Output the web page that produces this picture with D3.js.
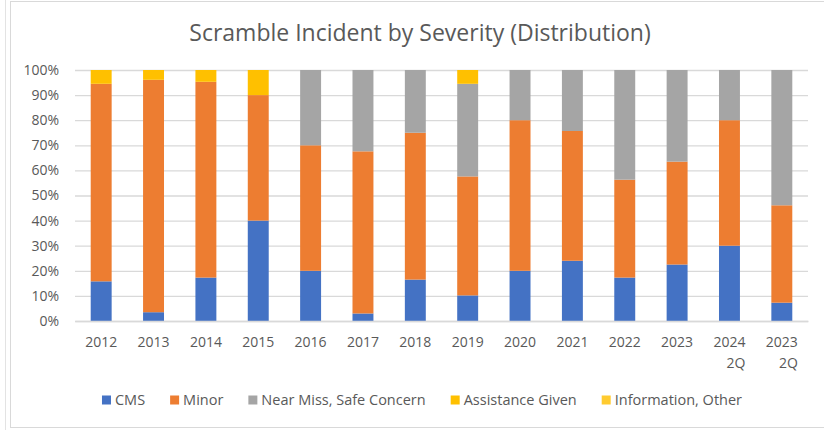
<!DOCTYPE html>
<html lang="en">
    <head>
        <meta charset="utf-8">
        <title>Scramble Incident by Severity</title>
        <script type="text/javascript" src="https://d3js.org/d3.v7.min.js"></script>
        <style type="text/css">
            body { margin: 0; background: #fff; }
            text { font-family: "Open Sans", Arial, sans-serif; fill: #595959; }
            .title { font-size: 23px; }
            .tick text { font-size: 14px; }
            .xlab { font-size: 14.5px; }
            .legend text { font-size: 14.5px; }
        </style>
    </head>
    <body>
        <script type="text/javascript">

            // chart size
            const svgW = 824;
            const svgH = 430;

            // data (shares per year)
            const categories = ["2012", "2013", "2014", "2015", "2016", "2017", "2018",
                                "2019", "2020", "2021", "2022", "2023", "2024 2Q", "2023 2Q"];
            const cms        = [15.8, 3.5, 17.3, 40, 20, 3, 16.5, 10.2, 20, 24, 17.3, 22.5, 30, 7.3];
            const minor      = [78.7, 92.6, 78, 50, 50, 64.6, 58.5, 47.4, 60, 51.7, 39, 41, 50, 38.8];
            const nearMiss   = [0, 0, 0, 0, 30, 32.4, 25, 36.9, 20, 24.3, 43.7, 36.5, 20, 53.9];
            const assistance = [5.5, 3.9, 4.7, 10, 0, 0, 0, 5.5, 0, 0, 0, 0, 0, 0];
            const information = [0, 0, 0, 0, 0, 0, 0, 0, 0, 0, 0, 0, 0, 0];
            const seriesNames = ["CMS", "Minor", "Near Miss, Safe Concern", "Assistance Given", "Information, Other"];
            const seriesColors = ["#4472C4", "#ED7D31", "#A5A5A5", "#FFC000", "#FFCB2F"];
            const yTicks = [0, 10, 20, 30, 40, 50, 60, 70, 80, 90, 100];

            const allSeries = [cms, minor, nearMiss, assistance, information];
            const table = categories.map(function(c, i) {
                const row = { cat: c };
                seriesNames.forEach(function(s, k) { row[s] = allSeries[k][i]; });
                return row;
            });
            const stacked = d3.stack().keys(seriesNames)(table);

            // plot area
            const plotL = 75, plotR = 808, plotT = 70, plotB = 321;

            const xScale = d3.scaleBand()
                .domain(categories)
                .range([plotL, plotR])
                .paddingInner(0.6)
                .paddingOuter(0.3);
            const yScale = d3.scaleLinear()
                .domain([0, 100])
                .range([plotB, plotT]);

            const svg = d3.select("body")
                .append("svg")
                .attr("width", svgW)
                .attr("height", svgH);

            // frame
            svg.append("line")
                .attr("x1", 5.5).attr("x2", 5.5)
                .attr("y1", 0).attr("y2", svgH)
                .attr("stroke", "#e3e3e3");
            svg.append("rect")
                .attr("x", 10.5).attr("y", 1.5)
                .attr("width", 840).attr("height", 426)
                .attr("fill", "none")
                .attr("stroke", "#d9d9d9");

            // title
            svg.append("text")
                .attr("class", "title")
                .attr("x", 420)
                .attr("y", 41)
                .attr("text-anchor", "middle")
                .text("Scramble Incident by Severity (Distribution)");

            // gridlines + y labels
            const leftAxis = d3.axisLeft(yScale)
                .tickValues(yTicks)
                .tickSize(-(plotR - plotL))
                .tickPadding(16)
                .tickFormat(d => d + "%");
            const gy = svg.append("g")
                .attr("transform", "translate(" + plotL + ",0)")
                .call(leftAxis);
            gy.select(".domain").remove();
            gy.selectAll(".tick line").attr("stroke", "#d9d9d9").attr("stroke-width", 1.3);
            gy.selectAll(".tick text").attr("fill", "#595959");

            // bars
            svg.append("g")
                .selectAll("g")
                .data(stacked)
                .enter()
                .append("g")
                .attr("fill", (d, i) => seriesColors[i])
                .selectAll("rect")
                .data(d => d)
                .enter()
                .append("rect")
                .attr("x", d => xScale(d.data.cat))
                .attr("width", xScale.bandwidth())
                .attr("y", d => yScale(d[1]))
                .attr("height", d => yScale(d[0]) - yScale(d[1]));

            // x labels (second line sits right-aligned under the first)
            const bottomAxis = d3.axisBottom(xScale).tickSize(0).tickPadding(0).tickFormat("");
            const gx = svg.append("g")
                .attr("transform", "translate(0," + plotB + ")")
                .call(bottomAxis);
            gx.select(".domain").attr("stroke", "#d9d9d9").attr("stroke-width", 1.3);
            gx.selectAll(".tick").each(function(d) {
                const parts = d.split(" ");
                const first = d3.select(this).append("text")
                    .attr("class", "xlab")
                    .attr("text-anchor", "middle")
                    .attr("y", 26)
                    .text(parts[0]);
                if (parts.length > 1) {
                    const w = first.node().getComputedTextLength();
                    d3.select(this).append("text")
                        .attr("class", "xlab")
                        .attr("text-anchor", "end")
                        .attr("x", w / 2)
                        .attr("y", 47)
                        .text(parts[1]);
                }
            });

            // legend
            const legend = svg.append("g").attr("class", "legend");
            const items = legend.selectAll("g")
                .data(seriesNames)
                .enter()
                .append("g");
            items.append("rect")
                .attr("width", 9).attr("height", 9)
                .attr("y", -9.5)
                .attr("fill", (d, i) => seriesColors[i]);
            items.append("text")
                .attr("x", 13)
                .attr("y", 0)
                .text(d => d);
            let pos = 0;
            items.each(function() {
                const w = d3.select(this).select("text").node().getComputedTextLength();
                d3.select(this).attr("transform", "translate(" + pos + ",0)");
                pos += 13 + w + 25;
            });
            const totalW = pos - 25;
            legend.attr("transform", "translate(" + (422 - totalW / 2) + ",405)");

        </script>
    </body>
</html>
